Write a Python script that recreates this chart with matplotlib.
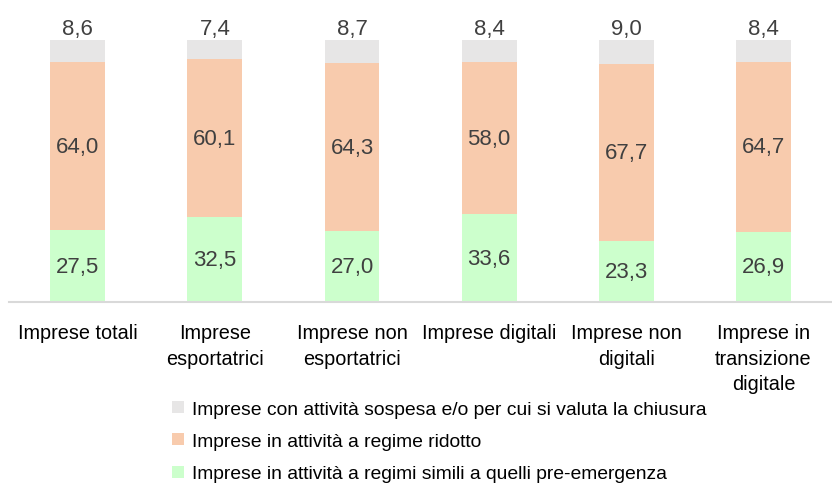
import matplotlib.pyplot as plt
import numpy as np

categories = ["Imprese totali", "Imprese\nesportatrici", "Imprese non\nesportatrici",
              "Imprese digitali", "Imprese non\ndigitali", "Imprese in\ntransizione\ndigitale"]
simili = [27.5, 32.5, 27.0, 33.6, 23.3, 26.9]
ridotto = [64.0, 60.1, 64.3, 58.0, 67.7, 64.7]
sospesa = [8.6, 7.4, 8.7, 8.4, 9.0, 8.4]

series_names = ["Imprese in attività a regimi simili a quelli pre-emergenza",
                "Imprese in attività a regime ridotto",
                "Imprese con attività sospesa e/o per cui si valuta la chiusura"]
colors = ["#CCFFCC", "#F8CBAD", "#E7E6E6"]

plt.rcParams["font.family"] = ["Liberation Sans", "DejaVu Sans"]

fig = plt.figure(figsize=(8.32, 4.85), dpi=100)
ax = fig.add_axes([0.011, 0.375, 0.989, 0.5405])

x = np.arange(len(categories))
w = 0.4
b1 = ax.bar(x, simili, w, color=colors[0], label=series_names[0])
b2 = ax.bar(x, ridotto, w, bottom=simili, color=colors[1], label=series_names[1])
bottom3 = np.array(simili) + np.array(ridotto)
b3 = ax.bar(x, sospesa, w, bottom=bottom3, color=colors[2], label=series_names[2])

fmt = lambda v: f"{v:.1f}".replace(".", ",")
for i in range(len(x)):
    ax.text(x[i], simili[i] / 2, fmt(simili[i]), ha="center", va="center",
            fontsize=16, color="#404040")
    ax.text(x[i], simili[i] + ridotto[i] / 2, fmt(ridotto[i]), ha="center", va="center",
            fontsize=16, color="#404040")
    ax.text(x[i], bottom3[i] + sospesa[i] + 0.3, fmt(sospesa[i]), ha="center", va="bottom",
            fontsize=16, color="#404040", clip_on=False)

ax.set_xlim(-0.5, 5.5)
ax.set_ylim(0, 100)
ax.set_xticks(x)
ax.set_xticklabels(categories, fontsize=14.3, color="black", linespacing=1.45)
ax.tick_params(axis="x", length=0, pad=15)
ax.set_yticks([])
for s in ["top", "right", "left"]:
    ax.spines[s].set_visible(False)
ax.spines["bottom"].set_color("#D9D9D9")
ax.spines["bottom"].set_linewidth(1.5)

handles = [b3, b2, b1]
fig.legend(handles, [h.get_label() for h in handles], loc="upper left",
           bbox_to_anchor=(0.207, 0.172), frameon=False, fontsize=13.9,
           handlelength=0.6, handleheight=0.6, handletextpad=0.4, labelspacing=0.8,
           borderaxespad=0, borderpad=0)

fig.savefig("out.png", dpi=100)
